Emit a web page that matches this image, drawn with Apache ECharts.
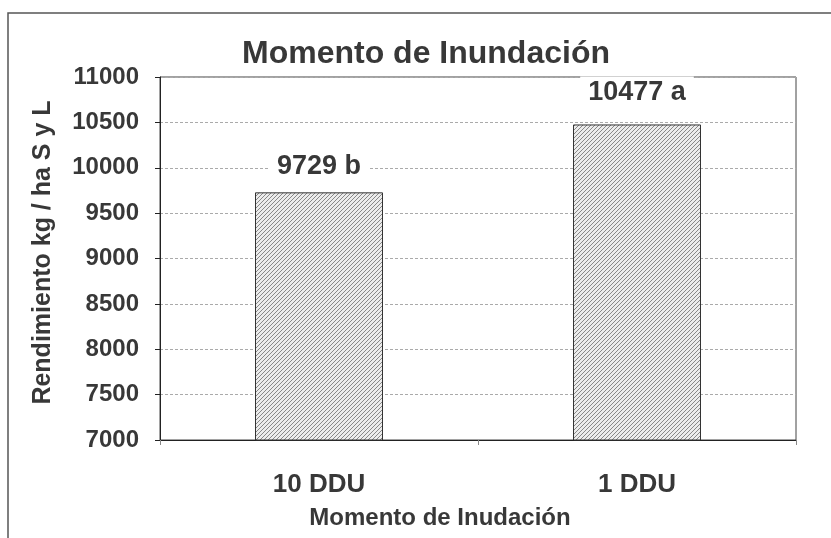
<!DOCTYPE html>
<html lang="es" style="height: 100%">
<head>
  <meta charset="utf-8">
</head>
<body style="height: 100%; margin: 0; background: #fff">
  <div id="container" style="width: 831px; height: 538px"></div>
  <script type="text/javascript" src="https://cdn.jsdelivr.net/npm/echarts@6.0.0/dist/echarts.min.js"></script>
  <script type="text/javascript">
    // datos
    var categorias = ['10 DDU', '1 DDU'];
    var rendimiento = [9729, 10477];
    var letras = ['b', 'a'];

    // trama diagonal para las barras
    var pat = document.createElement('canvas');
    pat.width = 4;
    pat.height = 4;
    var ctx = pat.getContext('2d');
    ctx.fillStyle = '#ececec';
    ctx.fillRect(0, 0, 4, 4);
    ctx.strokeStyle = '#6e6e6e';
    ctx.lineWidth = 0.8;
    ctx.beginPath();
    ctx.moveTo(0, 4); ctx.lineTo(4, 0);
    ctx.moveTo(-2, 2); ctx.lineTo(2, -2);
    ctx.moveTo(2, 6); ctx.lineTo(6, 2);
    ctx.stroke();

    var fuente = 'Liberation Sans, Arial, sans-serif';

    var dom = document.getElementById('container');
    var myChart = echarts.init(dom, null, { renderer: 'canvas' });

    var option = {
      backgroundColor: '#fff',
      animation: false,
      graphic: [
        {
          type: 'rect',
          shape: { x: 8, y: 13, width: 840, height: 540 },
          style: { fill: 'none', stroke: '#555', lineWidth: 1.5 },
          z: -1
        }
      ],
      title: {
        text: 'Momento de Inundación',
        left: 421,
        top: 33,
        textAlign: 'center',
        textStyle: {
          fontFamily: fuente,
          fontSize: 32,
          fontWeight: 'bold',
          color: '#383838'
        }
      },
      grid: {
        left: 160, right: 35, top: 77, bottom: 98,
        show: true,
        borderColor: '#444',
        borderWidth: 1
      },
      xAxis: {
        type: 'category',
        data: categorias,
        name: 'Momento de Inudación',
        nameLocation: 'middle',
        nameGap: 66,
        nameTextStyle: {
          fontFamily: fuente,
          fontSize: 24,
          fontWeight: 'bold',
          color: '#383838',
          padding: [0, 76, 0, 0]
        },
        axisLine: { lineStyle: { color: '#222', width: 1 } },
        axisTick: { show: true, alignWithLabel: false, length: 5, lineStyle: { color: '#888' } },
        axisLabel: {
          margin: 32,
          fontFamily: fuente,
          fontSize: 26,
          fontWeight: 'bold',
          color: '#383838'
        }
      },
      yAxis: {
        type: 'value',
        min: 7000,
        max: 11000,
        interval: 500,
        name: 'Rendimiento kg / ha S y L',
        nameLocation: 'middle',
        nameGap: 104,
        nameTextStyle: {
          fontFamily: fuente,
          fontSize: 25,
          fontWeight: 'bold',
          color: '#383838',
          padding: [0, 0, 0, 12]
        },
        axisLine: { show: true, lineStyle: { color: '#222', width: 1 } },
        axisTick: { show: true, length: 5, lineStyle: { color: '#222' } },
        axisLabel: {
          margin: 21,
          formatter: function (v) { return String(v); },
          fontFamily: fuente,
          fontSize: 24,
          fontWeight: 'bold',
          color: '#383838'
        },
        splitLine: { lineStyle: { color: '#aaa', type: [3, 2], width: 1 } }
      },
      series: [
        {
          type: 'bar',
          data: rendimiento.map(function (v, i) {
            return { value: v, label: { distance: i === 0 ? 9 : 15 } };
          }),
          barWidth: 128,
          itemStyle: {
            color: { image: pat, repeat: 'repeat' },
            borderColor: '#333',
            borderWidth: 1
          },
          label: {
            show: true,
            position: 'top',
            formatter: function (p) { return p.value + ' ' + letras[p.dataIndex]; },
            fontFamily: fuente,
            fontSize: 27,
            fontWeight: 'bold',
            color: '#383838',
            backgroundColor: '#fff',
            padding: [3, 8]
          }
        }
      ]
    };

    myChart.setOption(option);
    window.addEventListener('resize', myChart.resize);
  </script>
</body>
</html>
